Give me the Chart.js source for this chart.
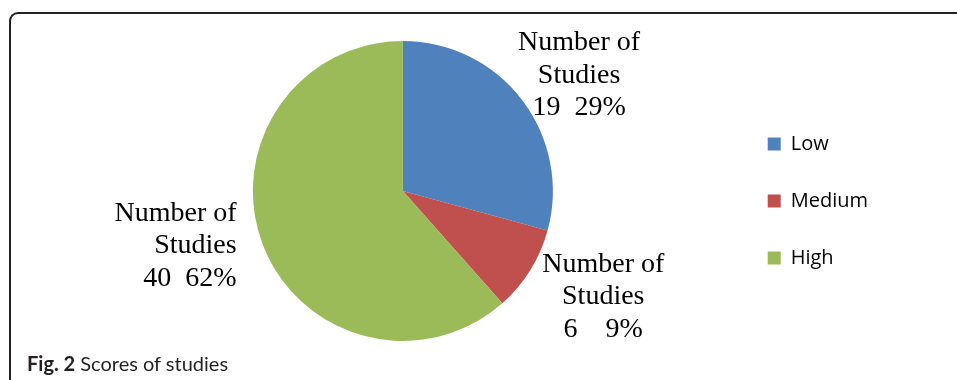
<!DOCTYPE html>
<html>
<head>
<meta charset="utf-8">
<script src="https://cdn.jsdelivr.net/npm/chart.js@4.4.1/dist/chart.umd.min.js"></script>
<style>
  body { margin: 0; background: #fff; }
  #wrap { position: relative; width: 957px; height: 380px; overflow: hidden; }
  #frame {
    position: absolute; left: 9px; top: 12px; width: 980px; height: 420px;
    border-left: 2px solid #222; border-top: 2px solid #222;
    border-top-left-radius: 9px;
  }
  #chartBox { position: absolute; left: 0; top: 0; width: 957px; height: 380px; }
  #caption {
    position: absolute; left: 27px; top: 351px;
    font: 20px Lato, sans-serif; color: #231f20; white-space: nowrap;
  }
  #caption b { font-weight: 700; }
</style>
</head>
<body>
<div id="wrap">
  <div id="frame"></div>
  <div id="chartBox"><canvas id="scoresChart"></canvas></div>
  <div id="caption"><b>Fig. 2</b> Scores of studies</div>
</div>
<script>
const categories = ['Low', 'Medium', 'High'];
const seriesName = 'Number of Studies';
const studyCounts = [19, 6, 40];
const sliceColors = ['#4F81BD', '#C0504D', '#9BBB59'];

// data labels outside each slice: series name, value and percent
const sliceLabels = {
    id: 'sliceLabels',
    afterDatasetsDraw(chart, args, opts) {
        const ctx = chart.ctx;
        const ds = chart.data.datasets[0];
        const total = ds.data.reduce((a, b) => a + b, 0);
        const cut = ds.label.lastIndexOf(' ');
        const nameLines = [ds.label.slice(0, cut), ds.label.slice(cut + 1)];

        ctx.save();
        ctx.font = opts.font;
        ctx.fillStyle = opts.color;
        ctx.textBaseline = 'alphabetic';
        chart.getDatasetMeta(0).data.forEach((arc, i) => {
            const { x, y, startAngle, endAngle, outerRadius } =
                arc.getProps(['x', 'y', 'startAngle', 'endAngle', 'outerRadius'], true);
            const mid = (startAngle + endAngle) / 2;
            const ex = x + Math.cos(mid) * outerRadius;
            const ey = y + Math.sin(mid) * outerRadius;
            const p = opts.place[i];
            const pct = Math.round(ds.data[i] / total * 100);
            const lines = nameLines.concat(ds.data[i] + p.gap + pct + '%');
            ctx.textAlign = p.align;
            lines.forEach((t, k) => {
                ctx.fillText(t, ex + p.dx, ey + p.dy + (k - 1) * opts.lineHeight);
            });
        });
        ctx.restore();
    }
};

new Chart(document.getElementById('scoresChart'), {
    type: 'pie',
    data: {
        labels: categories,
        datasets: [{
            label: seriesName,
            data: studyCounts,
            backgroundColor: sliceColors,
            borderWidth: 0,
            hoverOffset: 0
        }]
    },
    options: {
        responsive: true,
        maintainAspectRatio: false,
        animation: false,
        layout: {
            padding: { top: 41, bottom: 39, left: 75, right: 79 }
        },
        plugins: {
            tooltip: { enabled: false },
            legend: {
                position: 'right',
                // empty title only nudges the entries down a little
                title: { display: true, text: '', font: { size: 20, lineHeight: 1 }, padding: 0 },
                labels: {
                    boxWidth: 13,
                    boxHeight: 13,
                    padding: 37,
                    color: '#000',
                    font: { family: 'Open Sans', size: 20 }
                }
            },
            sliceLabels: {
                font: '28px "Liberation Serif", "Times New Roman", serif',
                color: '#000',
                lineHeight: 32.5,
                place: [
                    { dx: 57, dy: -17, align: 'center', gap: '  ' },
                    { dx: 73, dy: 34, align: 'center', gap: '    ' },
                    { dx: -26, dy: 9, align: 'right', gap: '  ' }
                ]
            }
        }
    },
    plugins: [sliceLabels]
});
</script>
</body>
</html>
